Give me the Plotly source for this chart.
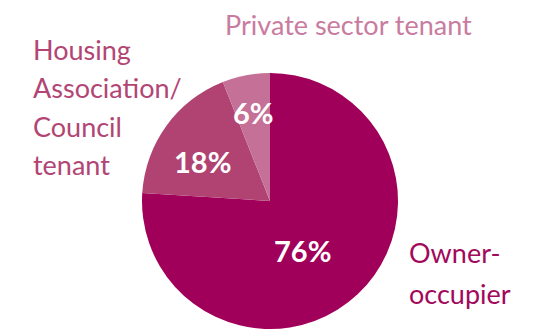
import math
import plotly.graph_objects as go

# Housing tenure shares
categories = ["Owner-occupier", "Housing Association/Council tenant", "Private sector tenant"]
shares = [76, 18, 6]
slice_colors = ["#A1005A", "#B14372", "#C57096"]
label_colors = ["#A2085C", "#B24574", "#C97C9F"]
label_lines = [["Owner-", "occupier"],
               ["Housing", "Association/", "Council", "tenant"],
               ["Private sector tenant"]]

W, H = 542, 333
cx, cy, R = 270, 201, 128  # pie centre / radius in pixels

fig = go.Figure(go.Pie(
    labels=categories,
    values=shares,
    sort=False,
    direction="clockwise",
    rotation=0,
    marker=dict(colors=slice_colors, line=dict(width=0)),
    textinfo="none",
    hoverinfo="label+percent",
    showlegend=False,
    domain=dict(x=[(cx - R) / W, (cx + R) / W], y=[(H - cy - R) / H, (H - cy + R) / H]),
))

annotations = []

# Percentage labels placed near each slice's mid-angle (radius fraction, angle nudge in degrees)
label_place = [(0.46, 10), (0.61, -6), (0.70, 0)]
total = sum(shares)
start = 0.0
for v, (rf, nudge) in zip(shares, label_place):
    mid = (start + v / 2) / total * 2 * math.pi + math.radians(nudge)  # clockwise from 12 o'clock
    start += v
    px = cx + rf * R * math.sin(mid)
    py = cy - rf * R * math.cos(mid)
    annotations.append(dict(
        x=px / W, y=1 - py / H, xref="paper", yref="paper",
        text=f"<b>{v}%</b>", showarrow=False,
        xanchor="center", yanchor="middle",
        font=dict(family="Lato", size=29, color="white"),
    ))

# Category name labels (left-aligned, one annotation per line)
label_anchor = [(407, 252, 41), (31, 49, 38.5), (223, 25, 0)]
for lines, (lx, ly, step), col in zip(label_lines, label_anchor, label_colors):
    for i, line in enumerate(lines):
        annotations.append(dict(
            x=lx / W, y=1 - (ly + i * step) / H, xref="paper", yref="paper",
            text=line, showarrow=False, xanchor="left", yanchor="middle",
            font=dict(family="Lato", size=27, color=col),
        ))

fig.update_layout(
    width=W, height=H,
    margin=dict(l=0, r=0, t=0, b=0),
    paper_bgcolor="white", plot_bgcolor="white",
    annotations=annotations,
)

fig.write_html("out.html")
